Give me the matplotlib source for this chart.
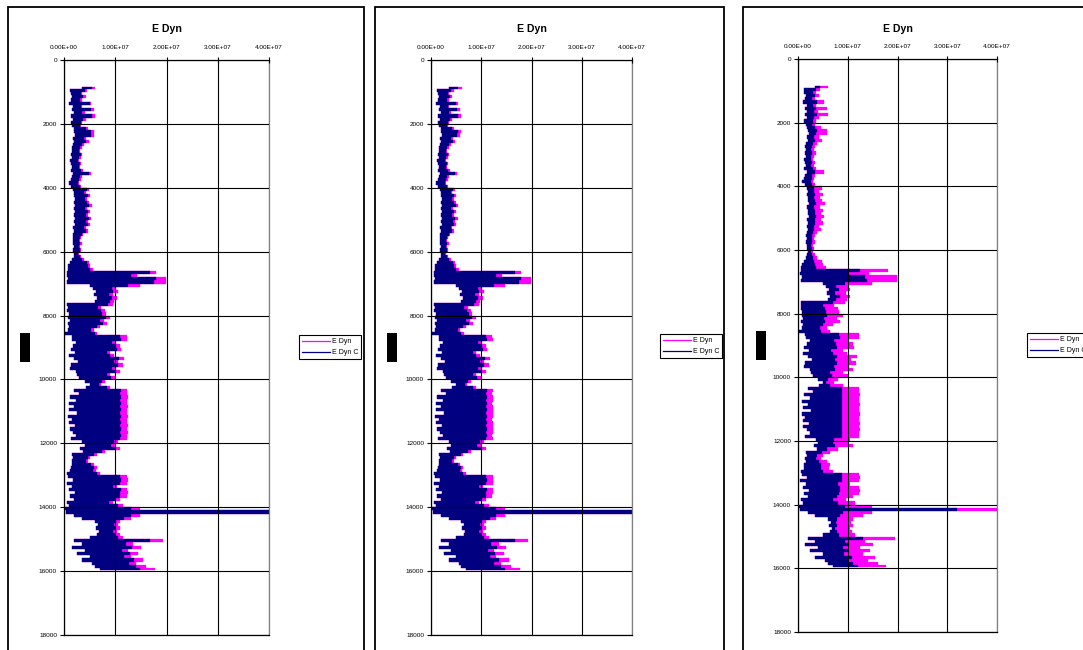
import numpy as np
import matplotlib
matplotlib.use("Agg")
import matplotlib.pyplot as plt
from matplotlib.patches import Rectangle
from matplotlib.lines import Line2D

plt.rcParams['font.family'] = ['Liberation Sans', 'DejaVu Sans']

# log sampling (ft)
DEPTH_TOP = 850
DEPTH_STEP = 100

# moduli in units of 1e6, one value per sample
e_dyn_min = [
    3.5, 1.2, 1.3, 1.6, 1.4, 1.0, 1.8, 1.5, 1.9, 1.4,
    1.8, 1.3, 1.6, 1.9, 2.0, 2.2, 1.8, 2.0, 1.7, 1.5,
    1.6, 1.4, 1.6, 1.2, 1.4, 1.6, 1.3, 1.8, 1.5, 1.3,
    0.9, 1.4, 1.8, 2.0, 1.9, 2.1, 2.0, 2.2, 1.9, 2.1,
    2.0, 2.2, 1.9, 2.1, 1.8, 2.0, 1.8, 1.7, 1.8, 1.7,
    1.9, 1.8, 2.0, 1.9, 1.6, 1.2, 0.8, 0.7, 0.6, 0.5,
    0.8, 0.6, 5.0, 5.6, 6.2, 5.8, 6.4, 6.0, 0.6, 0.7,
    0.6, 0.9, 0.8, 1.1, 0.7, 1.0, 0.8, 0.2, 1.5, 1.6,
    2.4, 1.8, 1.3, 2.2, 1.0, 2.0, 2.8, 1.4, 1.2, 2.4,
    2.6, 3.0, 4.0, 5.0, 4.2, 2.0, 3.0, 1.2, 2.4, 0.9,
    2.0, 1.0, 2.6, 0.8, 1.5, 1.0, 2.2, 1.1, 1.8, 2.4,
    1.4, 3.6, 4.0, 3.2, 3.8, 1.6, 1.8, 1.5, 1.6, 1.3,
    1.2, 0.6, 0.8, 1.8, 0.5, 1.6, 1.0, 2.2, 1.2, 2.0,
    0.6, 1.0, 0.0, 0.4, 2.0, 3.5, 6.0, 6.6, 6.2, 6.8,
    6.5, 5.0, 2.0, 3.5, 1.5, 4.0, 2.5, 5.0, 3.5, 5.5,
    6.0, 7.0,
]
e_dyn = [
    6.1, 4.5, 3.6, 4.2, 3.5, 5.3, 3.6, 5.8, 4.0, 6.0,
    4.2, 3.6, 3.4, 4.6, 5.9, 5.8, 4.3, 4.8, 3.9, 3.5,
    3.2, 3.6, 3.3, 3.0, 3.4, 3.2, 3.7, 5.2, 3.5, 3.3,
    3.0, 3.4, 4.8, 4.2, 5.0, 4.5, 4.9, 5.4, 4.4, 5.0,
    4.6, 5.3, 4.7, 5.0, 4.2, 4.6, 3.8, 3.4, 3.2, 3.5,
    3.1, 3.3, 3.0, 3.4, 3.9, 4.8, 5.0, 5.6, 18.0, 14.2,
    19.9, 19.9, 14.8, 10.2, 10.5, 9.6, 10.4, 9.8, 9.5, 7.3,
    8.0, 8.2, 9.0, 7.8, 8.4, 7.0, 5.8, 6.5, 12.2, 12.3,
    10.2, 11.0, 11.2, 9.0, 9.8, 11.8, 10.6, 11.6, 10.2, 11.0,
    9.0, 10.0, 8.0, 7.2, 9.0, 12.3, 12.2, 12.4, 12.3, 12.2,
    12.4, 12.3, 12.3, 12.4, 12.2, 12.3, 12.4, 12.3, 12.4, 12.2,
    12.3, 10.5, 10.0, 11.0, 8.0, 6.4, 5.0, 4.6, 5.8, 6.4,
    6.2, 7.0, 12.3, 12.4, 12.3, 10.4, 12.3, 12.4, 12.2, 11.0,
    9.6, 11.5, 14.8, 43.0, 14.8, 13.0, 11.0, 10.6, 11.0, 10.4,
    10.9, 11.5, 19.4, 13.5, 15.0, 12.5, 14.5, 13.0, 15.5, 14.0,
    16.0, 17.7,
]
e_dyn_c = [
    5.4, 4.0, 3.3, 3.8, 3.2, 5.0, 3.3, 5.2, 3.6, 5.4,
    3.8, 3.3, 3.1, 4.2, 5.3, 5.2, 3.9, 4.3, 3.6, 3.2,
    3.0, 3.3, 3.0, 2.8, 3.1, 3.0, 3.4, 4.8, 3.2, 3.0,
    2.8, 3.1, 4.4, 3.9, 4.6, 4.1, 4.5, 4.9, 4.0, 4.6,
    4.2, 4.8, 4.3, 4.6, 3.9, 4.2, 3.5, 3.2, 3.0, 3.2,
    2.9, 3.1, 2.8, 3.1, 3.6, 4.4, 4.6, 5.0, 16.8, 13.0,
    18.0, 17.5, 12.5, 9.3, 9.5, 8.8, 9.4, 9.0, 8.6, 6.6,
    7.2, 7.5, 8.2, 7.0, 7.6, 6.4, 5.3, 6.0, 11.0, 11.2,
    9.4, 10.0, 10.3, 8.3, 9.0, 10.8, 9.7, 10.6, 9.4, 10.0,
    8.3, 9.2, 7.4, 6.8, 8.4, 11.1, 11.0, 11.1, 11.0, 11.1,
    11.0, 11.1, 11.0, 11.1, 11.0, 11.1, 11.0, 11.1, 11.0, 11.1,
    11.0, 9.8, 9.2, 10.0, 7.4, 5.9, 4.6, 4.2, 5.3, 5.9,
    5.7, 6.4, 11.0, 11.1, 11.0, 9.6, 11.1, 11.0, 11.0, 10.0,
    8.8, 10.5, 13.0, 42.0, 13.0, 11.8, 10.2, 9.8, 10.0, 9.6,
    10.0, 10.6, 16.8, 12.0, 13.2, 11.4, 12.8, 11.8, 13.6, 12.6,
    14.0, 14.8,
]
e_dyn_c_alt = [
    4.5, 3.6, 3.0, 3.4, 2.9, 3.8, 3.0, 3.6, 3.2, 3.8,
    3.3, 3.0, 2.8, 3.4, 3.8, 3.7, 3.3, 3.5, 3.1, 2.9,
    2.7, 2.9, 2.7, 2.6, 2.8, 2.7, 3.0, 3.4, 2.9, 2.8,
    2.6, 2.9, 3.3, 3.2, 3.5, 3.3, 3.4, 3.6, 3.3, 3.5,
    3.4, 3.6, 3.4, 3.5, 3.2, 3.3, 3.0, 2.9, 2.8, 2.9,
    2.7, 2.8, 2.6, 2.8, 3.0, 3.3, 3.4, 3.6, 12.5, 10.0,
    13.5, 13.8, 9.5, 7.6, 8.2, 7.5, 8.4, 7.6, 7.0, 5.0,
    5.4, 5.6, 5.8, 5.2, 5.5, 5.0, 4.4, 4.6, 8.3, 8.4,
    7.2, 7.6, 7.8, 6.6, 7.0, 7.9, 7.4, 7.8, 7.2, 7.5,
    6.5, 6.8, 6.0, 5.6, 6.4, 8.8, 8.8, 8.9, 8.8, 8.8,
    8.9, 8.8, 8.8, 8.9, 8.8, 8.9, 8.8, 8.8, 8.9, 8.8,
    8.8, 7.2, 7.0, 7.4, 5.8, 4.8, 3.9, 3.6, 4.3, 4.7,
    4.6, 5.0, 8.8, 8.9, 8.8, 8.0, 8.4, 8.4, 8.3, 7.8,
    7.0, 8.0, 9.5, 32.0, 9.0, 8.5, 7.8, 7.6, 7.8, 7.5,
    7.8, 8.2, 13.1, 9.5, 10.2, 9.0, 10.0, 9.2, 10.8, 10.0,
    11.0, 12.0,
]

x_ticks = [0, 1e7, 2e7, 3e7, 4e7]
x_tick_labels = ['0.00E+00', '1.00E+07', '2.00E+07', '3.00E+07', '4.00E+07']
y_ticks = [0, 2000, 4000, 6000, 8000, 10000, 12000, 14000, 16000, 18000]

MAGENTA = '#FF00FF'
NAVY = '#000080'
W, H = 1083, 650

depth = DEPTH_TOP + DEPTH_STEP * np.arange(len(e_dyn))
lo = np.array(e_dyn_min) * 1e6


def fig_rect(x0, y0, x1, y1):
    return [x0 / W, 1 - y1 / H, (x1 - x0) / W, (y1 - y0) / H]


panels = [
    dict(frame=(8, 7, 364, 700), axes=(64, 60, 269, 635), tag=(20, 333, 30, 362),
         legend=(299, 335), corrected=e_dyn_c),
    dict(frame=(375, 7, 724, 700), axes=(431, 60, 632, 635), tag=(387, 333, 397, 362),
         legend=(660, 334), corrected=e_dyn_c),
    dict(frame=(743, 7, 1200, 700), axes=(798, 59, 997, 632), tag=(756, 331, 766, 360),
         legend=(1027, 333), corrected=e_dyn_c_alt),
]

fig = plt.figure(figsize=(W / 100, H / 100), dpi=100)

for p in panels:
    fx0, fy0, fx1, fy1 = p['frame']
    fig.patches.append(Rectangle((fx0 / W, 1 - fy1 / H), (fx1 - fx0) / W, (fy1 - fy0) / H,
                                 transform=fig.transFigure, fill=False,
                                 edgecolor='black', lw=1.3))
    tx0, ty0, tx1, ty1 = p['tag']
    fig.patches.append(Rectangle((tx0 / W, 1 - ty1 / H), (tx1 - tx0) / W, (ty1 - ty0) / H,
                                 transform=fig.transFigure, facecolor='black', lw=0))

    ax = fig.add_axes(fig_rect(*p['axes']))
    hi = np.array(e_dyn) * 1e6
    hi_c = np.array(p['corrected']) * 1e6
    ax.fill_betweenx(depth, lo, hi, step='mid', color=MAGENTA, lw=0.2)
    ax.fill_betweenx(depth, lo, hi_c, step='mid', color=NAVY, lw=0.2)

    ax.set_xlim(0, 4e7)
    ax.set_ylim(18000, 0)
    ax.set_xticks(x_ticks)
    ax.set_xticklabels(x_tick_labels)
    ax.set_yticks(y_ticks)
    ax.set_yticklabels([str(v) for v in y_ticks])
    ax.xaxis.tick_top()
    ax.tick_params(axis='x', direction='inout', length=4, width=0.8,
                   labelsize=4.6, pad=5)
    ax.tick_params(axis='y', direction='out', length=3, width=0.8,
                   labelsize=4.6, pad=2)
    ax.grid(True, color='black', lw=0.8)
    ax.set_axisbelow(False)
    for side in ('left', 'top', 'bottom'):
        ax.spines[side].set_color('black')
        ax.spines[side].set_linewidth(0.9)
    ax.spines['right'].set_color('#808080')
    ax.spines['right'].set_linewidth(0.9)

    ax0, ay0, ax1, ay1 = p['axes']
    fig.text((ax0 + ax1) / 2 / W, 1 - 29 / H, 'E Dyn', ha='center', va='center',
             fontsize=7.6, fontweight='bold')

    handles = [Line2D([], [], color=MAGENTA, lw=0.9, label='E Dyn'),
               Line2D([], [], color=NAVY, lw=0.9, label='E Dyn C')]
    lx, ly = p['legend']
    leg = ax.legend(handles=handles, loc='upper left',
                    bbox_to_anchor=(lx / W, 1 - ly / H), bbox_transform=fig.transFigure,
                    fontsize=5, frameon=True, fancybox=False, edgecolor='black',
                    framealpha=1, borderpad=0.45, labelspacing=0.55,
                    handlelength=4.0, handletextpad=0.3, borderaxespad=0)
    leg.get_frame().set_linewidth(0.8)

fig.savefig('out.png', dpi=100)
